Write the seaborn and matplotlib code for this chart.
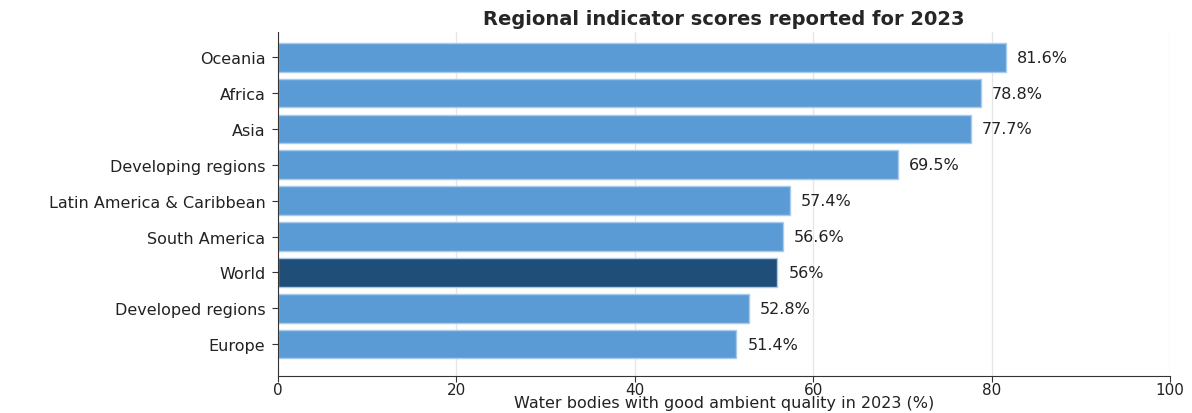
import pandas as pd
import matplotlib
matplotlib.use("Agg")
import matplotlib.pyplot as plt
import seaborn as sns

# Data
regions = ["Oceania", "Africa", "Asia", "Developing regions",
           "Latin America & Caribbean", "South America", "World",
           "Developed regions", "Europe"]
scores = [81.6, 78.8, 77.7, 69.5, 57.4, 56.6, 56.0, 52.8, 51.4]

df = pd.DataFrame({"Region": regions, "Score": scores})
colors = ["#1F4E79" if r == "World" else "#5B9BD5" for r in regions]

sns.set_style("white")
plt.rcParams["font.family"] = "sans-serif"
plt.rcParams["font.sans-serif"] = ["DejaVu Sans"]

fig = plt.figure(figsize=(11.92, 4.14), dpi=100)
ax = fig.add_axes([0.2332, 0.0894, 0.7483, 0.8306])

sns.barplot(data=df, x="Score", y="Region", hue="Region", palette=colors,
            legend=False, width=0.8, saturation=1, edgecolor="#A9CBEB",
            linewidth=1, ax=ax)

for i, v in enumerate(scores):
    ax.annotate(f"{v:g}%", xy=(v, i), xytext=(8, 0), textcoords="offset points",
                va="center", ha="left", fontsize=11.5, color="#222222")

ax.set_xlim(0, 100)
ax.set_ylim(8.89, -0.7)
ax.set_xticks([0, 20, 40, 60, 80, 100])
ax.grid(axis="x", color="#E6E6E6", linewidth=1)
ax.set_axisbelow(True)
sns.despine(ax=ax)
ax.spines["left"].set_color("#333333")
ax.spines["bottom"].set_color("#333333")
ax.tick_params(axis="both", which="both", length=4, color="#333333",
               labelsize=11.5, labelcolor="#222222", left=True, bottom=True)
ax.tick_params(axis="x", labelsize=11, pad=0)
ax.tick_params(axis="y", pad=5)

ax.set_title("Regional indicator scores reported for 2023", fontsize=14,
             fontweight="bold", pad=6)
ax.set_xlabel("Water bodies with good ambient quality in 2023 (%)",
              fontsize=11.5, color="#222222", labelpad=-1)
ax.set_ylabel("")

fig.savefig("out.png", dpi=100)
